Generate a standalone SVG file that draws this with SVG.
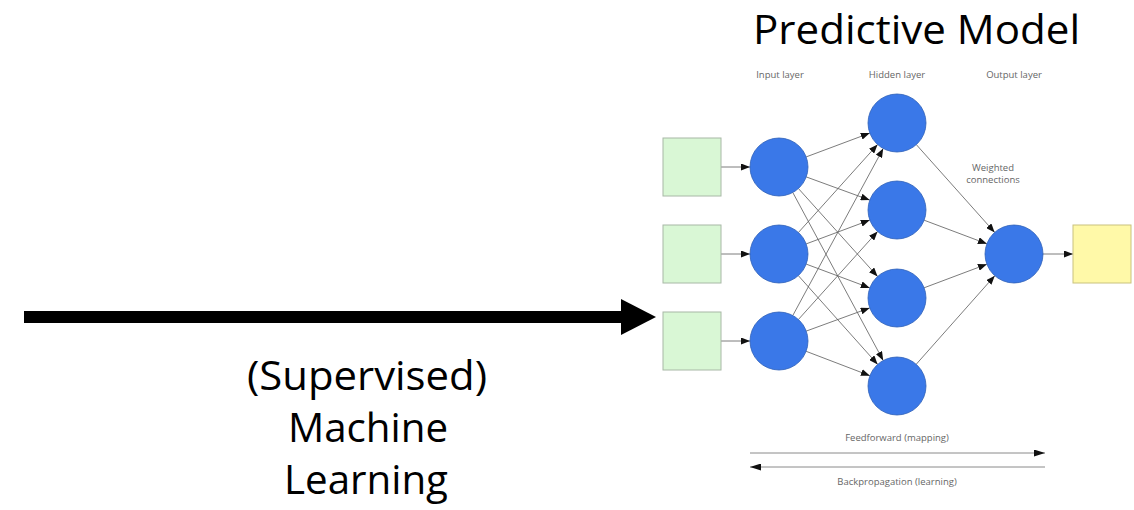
<svg xmlns="http://www.w3.org/2000/svg" width="1134" height="510" viewBox="0 0 1134 510">
<style>
.big{font-family:"Open Sans","Liberation Sans",sans-serif;font-size:40px;fill:#000;text-anchor:middle}
.lbl{font-family:"Open Sans","Liberation Sans",sans-serif;font-size:9.5px;fill:#666;text-anchor:middle}
.in{fill:#d9f7d5;stroke:#a8b8a6;stroke-width:1}
.out{fill:#fff9a8;stroke:#c9c27e;stroke-width:1}
.neu{fill:#3a78e8;stroke:#2d5fb8;stroke-width:0.8}
.c{stroke:#5a5a5a;stroke-width:0.8;fill:none;marker-end:url(#ah)}
.fb{stroke:#8a8a8a;stroke-width:1;fill:none;marker-end:url(#ah2)}
</style>
<defs>
<marker id="ah" markerUnits="userSpaceOnUse" markerWidth="9" markerHeight="7" refX="9" refY="3.5" orient="auto"><path d="M0,0 L9,3.5 L0,7 z" fill="#111"/></marker>
<marker id="ah2" markerUnits="userSpaceOnUse" markerWidth="11" markerHeight="7" refX="11" refY="3.5" orient="auto"><path d="M0,0 L11,3.5 L0,7 z" fill="#111"/></marker>
</defs>
<rect width="1134" height="510" fill="#fff"/>

<g id="title"><text class="big" x="916.5" y="44" font-size="42" textLength="327" lengthAdjust="spacingAndGlyphs">Predictive Model</text></g>

<g id="ml-arrow">
<rect x="24" y="311" width="598" height="12" fill="#000"/>
<polygon points="621,299 656,317 621,335" fill="#000"/>
</g>
<g id="ml-label">
<text class="big" x="367" y="390" textLength="240" lengthAdjust="spacingAndGlyphs">(Supervised)</text>
<text class="big" x="368" y="442" textLength="160" lengthAdjust="spacingAndGlyphs">Machine</text>
<text class="big" x="366" y="494" textLength="164" lengthAdjust="spacingAndGlyphs">Learning</text>
</g>

<g id="layer-labels">
<text class="lbl" x="780" y="78">Input layer</text>
<text class="lbl" x="897" y="78">Hidden layer</text>
<text class="lbl" x="1014" y="78">Output layer</text>
<text class="lbl" x="993" y="171">Weighted</text>
<text class="lbl" x="993" y="183">connections</text>
</g>

<g id="connectors">
<line class="c" x1="721" y1="167" x2="750" y2="167"/>
<line class="c" x1="721" y1="254" x2="750" y2="254"/>
<line class="c" x1="721" y1="341" x2="750" y2="341"/>
<line class="c" x1="806.2" y1="156.9" x2="869.8" y2="133.1"/>
<line class="c" x1="806.2" y1="176.9" x2="869.7" y2="200.1"/>
<line class="c" x1="798.4" y1="188.5" x2="877.6" y2="276.5"/>
<line class="c" x1="792.8" y1="192.5" x2="883.2" y2="360.5"/>
<line class="c" x1="798.4" y1="232.5" x2="877.6" y2="144.5"/>
<line class="c" x1="806.2" y1="243.9" x2="869.8" y2="220.1"/>
<line class="c" x1="806.2" y1="264.1" x2="869.8" y2="287.9"/>
<line class="c" x1="798.3" y1="275.6" x2="877.7" y2="364.4"/>
<line class="c" x1="792.8" y1="315.5" x2="883.2" y2="148.5"/>
<line class="c" x1="798.4" y1="319.5" x2="877.6" y2="231.5"/>
<line class="c" x1="806.2" y1="331.1" x2="869.7" y2="307.9"/>
<line class="c" x1="806.1" y1="351.3" x2="869.9" y2="375.7"/>
<line class="c" x1="916.3" y1="144.6" x2="994.7" y2="232.4"/>
<line class="c" x1="924.1" y1="220.2" x2="986.9" y2="243.8"/>
<line class="c" x1="924.1" y1="287.8" x2="986.9" y2="264.2"/>
<line class="c" x1="916.2" y1="364.3" x2="994.8" y2="275.7"/>
<line class="c" x1="1043" y1="254" x2="1073" y2="254"/>
<line class="fb" x1="750" y1="453" x2="1045" y2="453"/>
<line class="fb" x1="1045" y1="467" x2="750" y2="467"/>
</g>

<g id="input-1"><rect class="in" x="663" y="138" width="58" height="58"/></g>
<g id="input-2"><rect class="in" x="663" y="225" width="58" height="58"/></g>
<g id="input-3"><rect class="in" x="663" y="312" width="58" height="58"/></g>
<g id="in-node-1"><circle class="neu" cx="779" cy="167" r="29"/></g>
<g id="in-node-2"><circle class="neu" cx="779" cy="254" r="29"/></g>
<g id="in-node-3"><circle class="neu" cx="779" cy="341" r="29"/></g>
<g id="hid-node-1"><circle class="neu" cx="897" cy="123" r="29"/></g>
<g id="hid-node-2"><circle class="neu" cx="897" cy="210" r="29"/></g>
<g id="hid-node-3"><circle class="neu" cx="897" cy="298" r="29"/></g>
<g id="hid-node-4"><circle class="neu" cx="897" cy="386" r="29"/></g>
<g id="out-node"><circle class="neu" cx="1014" cy="254" r="29"/></g>
<g id="output"><rect class="out" x="1073" y="225" width="58" height="58"/></g>

<g id="flow-labels">
<text class="lbl" x="897" y="441">Feedforward (mapping)</text>
<text class="lbl" x="897" y="485">Backpropagation (learning)</text>
</g>
</svg>
